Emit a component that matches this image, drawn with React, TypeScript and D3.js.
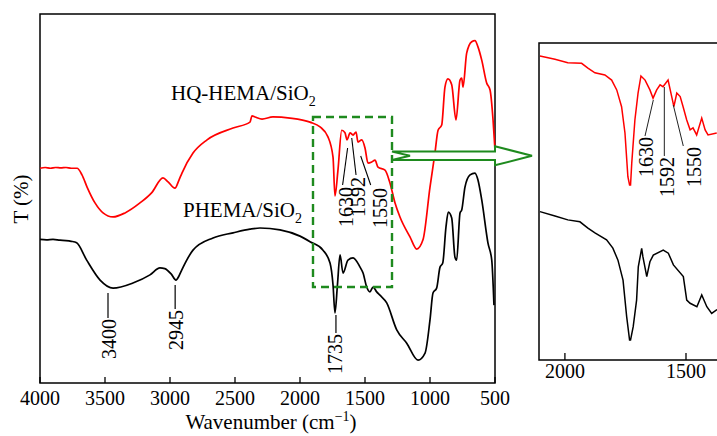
import React from "react";
import * as d3 from "d3";

// HQ-HEMA/SiO2 spectrum (red), wavenumber in cm^-1 and transmittance (a.u.)
const hqWave = [4000, 3960, 3920, 3880, 3840, 3800, 3760, 3715, 3677, 3638, 3577, 3515, 3438, 3346, 3231, 3140, 3054, 3015, 2962, 2931, 2908, 2823, 2715, 2515, 2385, 2369, 2346, 2292, 2208, 2077, 1923, 1846, 1785, 1746, 1731, 1708, 1679, 1654, 1638, 1615, 1592, 1569, 1554, 1525, 1500, 1477, 1448, 1423, 1400, 1346, 1308, 1269, 1231, 1154, 1102, 1054, 1000, 962, 938, 910, 885, 862, 833, 800, 769, 756, 746, 718, 679, 654, 631, 602, 564, 538, 515, 500];
const hqT = [58.2, 58.4, 58.2, 58.4, 58.3, 58.4, 58.2, 58.2, 56.4, 53.1, 48.8, 46.1, 45.0, 46.1, 48.8, 51.6, 55.6, 54.5, 52.8, 55.0, 56.9, 62.3, 65.9, 69.1, 70.7, 72.4, 72.1, 71.5, 72.1, 71.8, 70.7, 69.4, 66.7, 61.2, 50.7, 57.7, 68.5, 67.8, 65.9, 67.8, 67.2, 68.0, 65.3, 65.9, 63.7, 59.6, 59.9, 60.4, 58.5, 57.7, 54.2, 48.8, 45.0, 39.6, 36.3, 38.8, 53.1, 62.3, 68.5, 69.9, 80.2, 82.4, 80.8, 71.3, 82.1, 82.6, 80.2, 89.4, 92.5, 92.8, 91.1, 87.5, 81.3, 79.4, 71.3, 63.1];

// PHEMA/SiO2 spectrum (black)
const phWave = [4000, 3950, 3900, 3846, 3800, 3760, 3718, 3641, 3538, 3438, 3285, 3154, 3077, 3040, 2990, 2954, 2931, 2910, 2823, 2669, 2515, 2385, 2308, 2154, 2000, 1923, 1823, 1769, 1746, 1731, 1712, 1692, 1669, 1631, 1592, 1538, 1515, 1487, 1462, 1438, 1410, 1385, 1333, 1256, 1179, 1092, 1038, 1000, 977, 949, 923, 902, 877, 859, 833, 808, 795, 769, 756, 731, 692, 654, 631, 602, 554, 525, 508];
const phT = [38.9, 38.8, 38.9, 38.7, 38.6, 38.4, 38.0, 33.3, 27.9, 25.7, 27.1, 29.3, 31.2, 31.0, 29.5, 27.9, 29.0, 30.6, 36.0, 39.3, 40.7, 41.7, 42.0, 41.5, 39.8, 38.3, 36.0, 32.5, 26.6, 19.0, 26.6, 34.7, 29.8, 33.3, 33.9, 31.4, 29.8, 26.0, 24.7, 26.0, 24.7, 23.8, 21.7, 14.4, 10.8, 6.2, 8.1, 17.1, 24.4, 25.7, 31.4, 32.5, 42.3, 46.3, 44.7, 34.1, 33.3, 46.1, 46.9, 53.1, 56.4, 56.9, 55.0, 49.6, 37.9, 33.3, 21.1];

// Expanded 2100–1370 cm^-1 region, recorded at finer resolution
const inHqWave = [2103, 2041, 1988, 1931, 1905, 1876, 1835, 1807, 1786, 1766, 1752, 1740, 1733, 1729, 1724, 1711, 1698, 1686, 1669, 1649, 1636, 1621, 1607, 1595, 1574, 1559, 1550, 1538, 1524, 1512, 1497, 1483, 1471, 1456, 1435, 1421, 1409, 1373];
const inHqT = [95.9, 94.9, 93.8, 93.6, 92.1, 90.6, 89.9, 88.3, 85.2, 79.9, 71.6, 57.8, 55.2, 55.2, 62.1, 75.7, 84.2, 89.6, 88.3, 85.2, 82.6, 85.2, 86.8, 86.2, 88.3, 83.1, 79.9, 84.2, 83.1, 79.9, 75.7, 72.6, 73.2, 71.0, 76.3, 72.6, 71.0, 71.6];

const inPhWave = [2103, 2041, 1988, 1938, 1905, 1876, 1828, 1802, 1781, 1760, 1745, 1733, 1729, 1718, 1704, 1697, 1683, 1678, 1662, 1649, 1635, 1594, 1573, 1552, 1511, 1497, 1483, 1455, 1435, 1414, 1394, 1372];
const inPhT = [46.8, 45.4, 44.2, 43.6, 41.6, 40.1, 37.9, 35.3, 31.5, 25.2, 13.7, 6.3, 6.3, 10.5, 18.9, 29.4, 35.2, 32.6, 26.3, 31.0, 33.1, 34.7, 33.7, 30.0, 26.3, 18.9, 17.9, 16.8, 20.5, 16.8, 14.7, 15.9];

const mainTicks = [4000, 3500, 3000, 2500, 2000, 1500, 1000, 500];
const insetTicks = [2000, 1500];

// Peak annotations: value, label offset (px from the value's x), line geometry offsets
const mainBlackPeaks = [
  { v: 3400, lx: -10, tx: -9, y1: 293, y2: 318 },
  { v: 2945, lx: -2, tx: -1, y1: 285, y2: 309 },
  { v: 1735, lx: 1.5, tx: 1, y1: 315, y2: 333 },
];
const mainRedPeaks = [
  { v: 1630, x1: -0.5, x2: -5.5, tx: -2.5, y1: 148, y2: 185, ty: 187 },
  { v: 1592, x1: -1.3, x2: 3, tx: 5, y1: 138, y2: 175, ty: 177 },
  { v: 1550, x1: 2.2, x2: 12.2, tx: 21.5, y1: 156, y2: 185, ty: 188 },
];
const insetRedPeaks = [
  { v: 1630, x1: -1.2, x2: -9.5, tx: -8.7, y1: 100, y2: 136, ty: 137 },
  { v: 1592, x1: 0.6, x2: 0.6, tx: 3, y1: 87, y2: 156, ty: 157 },
  { v: 1550, x1: -0.6, x2: 9.4, tx: 19.8, y1: 105, y2: 146, ty: 147 },
];

const FONT = "'Liberation Serif', 'Times New Roman', serif";
const RED = "#ff0000";
const GREEN = "#1e8a1e";

export default function App() {
  const W = 717;
  const H = 436;

  // main panel
  const m = { left: 40, right: 495, top: 14, bottom: 383 };
  const x = d3.scaleLinear().domain([4000, 500]).range([m.left, m.right]);
  const y = d3.scaleLinear().domain([0, 100]).range([m.bottom, m.top]);

  // expanded panel
  const n = { left: 539, right: 740, top: 43, bottom: 360 };
  const xi = d3.scaleLinear().domain([2107, 1277]).range([n.left, n.right]);
  const yi = d3.scaleLinear().domain([0, 100]).range([n.bottom, n.top]);

  const mainLine = d3
    .line<[number, number]>()
    .x((d) => x(d[0]))
    .y((d) => y(d[1]))
    .curve(d3.curveMonotoneX);
  const insetLine = d3
    .line<[number, number]>()
    .x((d) => xi(d[0]))
    .y((d) => yi(d[1]))
    .curve(d3.curveLinear);

  const zip = (a: number[], b: number[]) => a.map((v, i) => [v, b[i]] as [number, number]);

  // arrow pointing from the highlighted box to the expanded panel
  const ax0 = 392;
  const ax1 = 495;
  const tip = 532;
  const ay = 155.8;
  const arrowPts = [
    [ax0, ay - 4.2],
    [ax1, ay - 4.2],
    [ax1, ay - 9.5],
    [tip, ay],
    [ax1, ay + 9.5],
    [ax1, ay + 4.2],
    [ax0, ay + 4.2],
    [ax0 + 18, ay],
  ];

  return (
    <svg
      width={W}
      height={H}
      viewBox={`0 0 ${W} ${H}`}
      style={{ position: "absolute", left: 0, top: 0, background: "#fff" }}
      fontFamily={FONT}
    >
      <defs>
        <clipPath id="insetClip">
          <rect x={n.left} y={n.top} width={n.right - n.left} height={n.bottom - n.top} />
        </clipPath>
      </defs>

      {/* main frame */}
      <rect x={m.left} y={m.top} width={m.right - m.left} height={m.bottom - m.top} fill="none" stroke="#000" strokeWidth={1.5} />
      {mainTicks.map((t) => (
        <g key={t}>
          <line x1={x(t)} x2={x(t)} y1={m.bottom} y2={m.bottom - 6} stroke="#000" strokeWidth={1.3} />
          <text x={x(t)} y={405} textAnchor="middle" fontSize={20}>
            {t}
          </text>
        </g>
      ))}
      <text x={271} y={429} textAnchor="middle" fontSize={21}>
        Wavenumber (cm
        <tspan dy={-8} fontSize={14}>−1</tspan>
        <tspan dy={8}>)</tspan>
      </text>
      <text transform="translate(28,199) rotate(-90)" textAnchor="middle" fontSize={21}>
        T (%)
      </text>

      {/* spectra */}
      <path d={mainLine(zip(hqWave, hqT)) || ""} fill="none" stroke={RED} strokeWidth={1.7} strokeLinejoin="round" />
      <path d={mainLine(zip(phWave, phT)) || ""} fill="none" stroke="#000" strokeWidth={1.7} strokeLinejoin="round" />

      <text x={171} y={100} fontSize={21}>
        HQ-HEMA/SiO<tspan dy={6} fontSize={14}>2</tspan>
      </text>
      <text x={183} y={217} fontSize={21}>
        PHEMA/SiO<tspan dy={6} fontSize={14}>2</tspan>
      </text>

      {mainBlackPeaks.map((p) => (
        <g key={p.v}>
          <line x1={x(p.v) + p.lx} x2={x(p.v) + p.lx} y1={p.y1} y2={p.y2} stroke="#000" strokeWidth={1.2} />
          <text transform={`translate(${x(p.v) + p.tx},${p.y2 + 1}) rotate(-90)`} textAnchor="end" dy="0.35em" fontSize={20}>
            {p.v}
          </text>
        </g>
      ))}
      {mainRedPeaks.map((p) => (
        <g key={p.v}>
          <line x1={x(p.v) + p.x1} x2={x(p.v) + p.x2} y1={p.y1} y2={p.y2} stroke="#000" strokeWidth={1.1} />
          <text transform={`translate(${x(p.v) + p.tx},${p.ty}) rotate(-90)`} textAnchor="end" dy="0.35em" fontSize={20}>
            {p.v}
          </text>
        </g>
      ))}

      {/* highlighted region */}
      <rect x={313} y={117} width={79} height={170} fill="none" stroke={GREEN} strokeWidth={2.4} strokeDasharray="8,5" />
      <polygon points={arrowPts.map((p) => p.join(",")).join(" ")} fill="#fff" stroke={GREEN} strokeWidth={2} strokeLinejoin="miter" />

      {/* expanded panel */}
      <g clipPath="url(#insetClip)">
        <path d={insetLine(zip(inHqWave, inHqT)) || ""} fill="none" stroke={RED} strokeWidth={1.5} />
        <path d={insetLine(zip(inPhWave, inPhT)) || ""} fill="none" stroke="#000" strokeWidth={1.5} />
      </g>
      <rect x={n.left} y={n.top} width={n.right - n.left} height={n.bottom - n.top} fill="none" stroke="#000" strokeWidth={1.5} />
      {insetTicks.map((t) => (
        <g key={t}>
          <line x1={xi(t)} x2={xi(t)} y1={n.bottom} y2={n.bottom - 7} stroke="#000" strokeWidth={1.3} />
          <text x={xi(t)} y={378} textAnchor="middle" fontSize={20}>
            {t}
          </text>
        </g>
      ))}
      {insetRedPeaks.map((p) => (
        <g key={p.v}>
          <line x1={xi(p.v) + p.x1} x2={xi(p.v) + p.x2} y1={p.y1} y2={p.y2} stroke="#222" strokeWidth={1} />
          <text transform={`translate(${xi(p.v) + p.tx},${p.ty}) rotate(-90)`} textAnchor="end" dy="0.35em" fontSize={20}>
            {p.v}
          </text>
        </g>
      ))}
    </svg>
  );
}
